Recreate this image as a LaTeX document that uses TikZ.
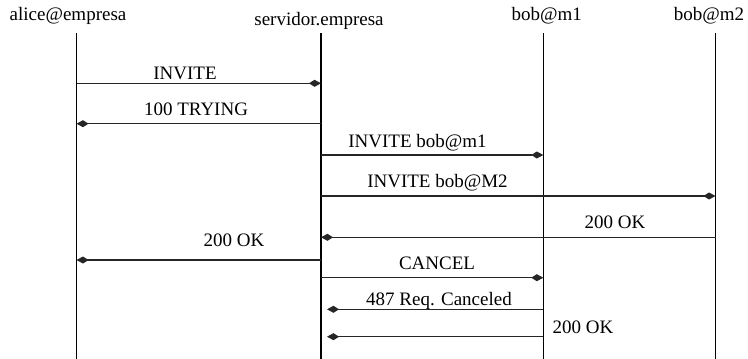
\documentclass[tikz,border=0pt]{standalone}
\usepackage{fontspec}
\setmainfont{Liberation Serif}
\usetikzlibrary{arrows.meta}
\begin{document}
\begin{tikzpicture}[x=1pt,y=-1pt,
  lbl/.style={anchor=base,inner sep=0pt,font=\fontsize{19}{22}\selectfont},
  lifeline/.style={draw=black,line width=1.3pt},
  msg/.style={draw=black!85,line width=1.25pt,
    -{Kite[length=12pt,width=7pt,inset=5.5pt]}},
]
\useasboundingbox (0,0) rectangle (748,359);

% participants
\node[lbl] (hA) at (68,20.5)  {alice@empresa};
\node[lbl] (hS) at (319,25.5) {servidor.empresa};
\node[lbl] (hM1) at (546.7,20.5) {bob@m1};
\node[lbl] (hM2) at (709,20.5) {bob@m2};

% lifelines
\coordinate (A)  at (76.5,33);  \coordinate (Ab)  at (76.5,359);
\coordinate (S)  at (321,33);   \coordinate (Sb)  at (321,359);
\coordinate (M1) at (543.3,33); \coordinate (M1b) at (543.3,359);
\coordinate (M2) at (715.5,33); \coordinate (M2b) at (715.5,359);
\draw[lifeline] (A) -- (Ab);
\draw[lifeline] (S) -- (Sb);
\draw[lifeline] (M1) -- (M1b);
\draw[lifeline] (M2) -- (M2b);

% message rows
\coordinate (r1) at (0,83.3);
\coordinate (r2) at (0,123.7);
\coordinate (r3) at (0,155);
\coordinate (r4) at (0,196);
\coordinate (r5) at (0,237.3);
\coordinate (r6) at (0,260);
\coordinate (r7) at (0,277.7);
\coordinate (r8) at (0,309.3);
\coordinate (r9) at (0,336.7);

% messages
\draw[msg] (A |- r1) -- (S |- r1);
\node[lbl] (t1) at (185,79) {INVITE};

\draw[msg] (S |- r2) -- (A |- r2);
\node[lbl] (t2) at (196,115) {100 TRYING};

\draw[msg] (S |- r3) -- (M1 |- r3);
\node[lbl] (t3) at (417.5,147) {INVITE bob@m1};

\draw[msg] (S |- r4) -- (M2 |- r4);
\node[lbl] (t4) at (437.5,187) {INVITE bob@M2};

\draw[msg] (M2 |- r5) -- (S |- r5);
\node[lbl] (t5) at (615,228) {200 OK};

\draw[msg] (S |- r6) -- (A |- r6);
\node[lbl] (t6) at (234,246.5) {200 OK};

\draw[msg] (S |- r7) -- (M1 |- r7);
\node[lbl] (t7) at (437,269) {CANCEL};

\draw[msg,shorten >=6pt] (M1 |- r8) -- (S |- r8);
\node[lbl] (t8) at (439,305) {487 Req. Canceled};

\draw[msg,shorten >=6pt] (M1 |- r9) -- (S |- r9);
\node[lbl] (t9) at (583,333) {200 OK};
\end{tikzpicture}
\end{document}
